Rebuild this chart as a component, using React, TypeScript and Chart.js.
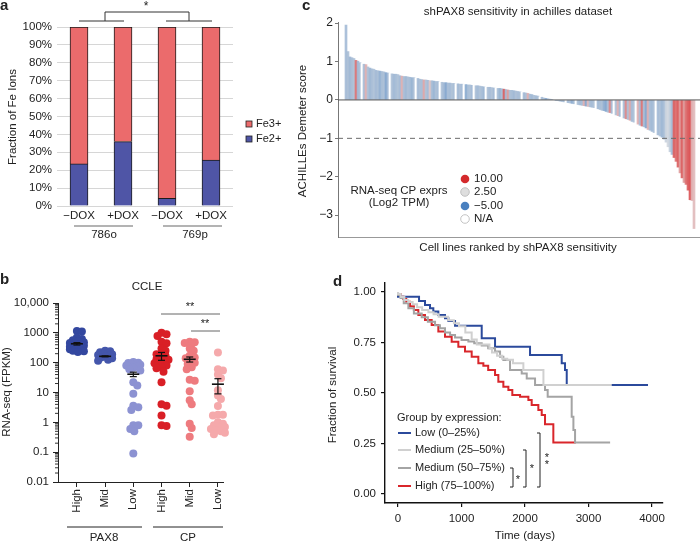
import React, { useEffect, useRef } from 'react';
import { Chart, registerables } from 'chart.js';

Chart.register(...registerables);

const FONT = '"Liberation Sans", Arial, Helvetica, sans-serif';
const W = 700;
const H = 542;
const TEXT = '#222222';
const MINUS = '\u2212';

// ---------------- Panel a : Fe ions ----------------
const feCategories = [MINUS + 'DOX', '+DOX', MINUS + 'DOX', '+DOX'];
const feCellLines = ['786o', '769p'];
const fe2Percent = [23.5, 36.0, 4.3, 25.7];
const fe3Percent = [76.5, 64.0, 95.7, 74.3];
const feSeriesNames = ['Fe3+', 'Fe2+'];
const feYTicks = [0, 10, 20, 30, 40, 50, 60, 70, 80, 90, 100];

// ---------------- Panel b : CCLE ----------------
const ccleCategories = ['High', 'Mid', 'Low', 'High', 'Mid', 'Low'];
const ccleGenes = ['PAX8', 'CP'];
const pax8High = [1150, 1100, 700, 620, 560, 520, 480, 460, 440, 420, 400, 390, 370, 360, 350, 340, 330, 310, 300, 290, 280, 270, 260, 250, 240, 230];
const pax8Mid = [250, 240, 225, 210, 200, 190, 180, 170, 160, 150, 140, 125, 115];
const pax8Low = [105, 100, 98, 95, 90, 85, 80, 75, 68, 60, 55, 22, 17, 9, 3.6, 3.2, 2.6, 0.8, 0.8, 0.6, 0.5, 0.09];
const cpHigh = [1000, 900, 780, 500, 450, 300, 250, 200, 190, 170, 140, 130, 125, 110, 100, 95, 80, 70, 65, 50, 22, 4.0, 3.6, 1.7, 0.8, 0.75];
const cpMid = [500, 480, 460, 420, 300, 250, 170, 150, 140, 120, 100, 90, 70, 60, 27, 25, 11, 5.5, 4, 0.9, 0.65, 0.33];
const cpLow = [220, 60, 55, 40, 30, 12, 8, 6, 3.5, 1.8, 1.8, 1.7, 1.0, 0.9, 0.8, 0.7, 0.7, 0.6, 0.55, 0.5, 0.45, 0.4];
const ccleMeans = [430, 163, 41, 170, 130, 19];
const ccleSem = [40, 6, 7, 50, 25, 10];
const ccleYTickValues = [0.01, 0.1, 1, 10, 100, 1000, 10000];
const ccleYTickLabels = ['0.01', '0.1', '1', '10', '100', '1000', '10,000'];
const ccleColors = ['#33479f', '#4456ab', '#8c92d2', '#d91f26', '#ee7b7f', '#f5a9ab'];

// ---------------- Panel c : Achilles ----------------
const achillesScores = [
  1.95, 1.26, 1.12, 1.10, 1.08, 1.03, 1.01, 0.97, 0.95, 0.93,
  0.92, 0.86, 0.83, 0.81, 0.80, 0.77, 0.76, 0.75, 0.74, 0.73,
  0.71, 0.70, 0.69, 0.68, 0.67, 0.67, 0.66, 0.63, 0.62, 0.61,
  0.61, 0.60, 0.59, 0.58, 0.58, 0.57, 0.56, 0.54, 0.53, 0.52,
  0.52, 0.51, 0.50, 0.50, 0.49, 0.48, 0.48, 0.47, 0.46, 0.45,
  0.45, 0.44, 0.44, 0.43, 0.43, 0.42, 0.42, 0.41, 0.41, 0.40,
  0.40, 0.39, 0.39, 0.38, 0.38, 0.37, 0.37, 0.36, 0.35, 0.34,
  0.34, 0.33, 0.33, 0.32, 0.31, 0.31, 0.30, 0.30, 0.29, 0.28,
  0.27, 0.26, 0.25, 0.25, 0.24, 0.23, 0.22, 0.21, 0.20, 0.19,
  0.18, 0.17, 0.15, 0.14, 0.12, 0.11, 0.10, 0.08, 0.07, 0.05,
  0.04, 0.03, 0.02, 0.01, 0.00, -0.01, -0.02, -0.03, -0.04, -0.05,
  -0.06, -0.07, -0.08, -0.09, -0.10, -0.11, -0.12, -0.13, -0.14, -0.15,
  -0.16, -0.17, -0.18, -0.19, -0.20, -0.22, -0.23, -0.25, -0.27, -0.28,
  -0.30, -0.32, -0.33, -0.35, -0.37, -0.39, -0.41, -0.43, -0.45, -0.47,
  -0.49, -0.51, -0.53, -0.56, -0.58, -0.61, -0.63, -0.66, -0.68, -0.70,
  -0.73, -0.77, -0.79, -0.82, -0.85, -0.88, -0.91, -0.94, -0.97, -1.02,
  -1.10, -1.22, -1.35, -1.42, -1.50, -1.60, -1.75, -1.90, -2.03, -2.15,
  -2.20, -2.35, -2.60, -2.62, -3.35,
];
const cpExpression = [
  -1.2, -0.8, -1.5, -1.0, -0.6, 8.0, -1.4, -0.9, null, -1.1,
  5.0, -0.7, -1.6, -1.0, -0.5, -1.3, -0.9, -2.2, -1.0, -0.8,
  -3.0, -1.1, null, -0.7, -1.4, -1.0, -0.6, -1.2, 5.0, -0.9,
  -1.5, -0.8, -1.1, -2.0, -0.7, null, -1.3, -0.9, -1.0, 5.5,
  -0.6, -1.2, 4.0, -1.0, -1.8, -0.8, -1.1, null, -0.7, -1.4,
  -3.0, -0.9, -1.2, -0.6, -1.0, null, -1.5, -0.8, -1.1, null,
  -2.8, -1.0, -0.7, -1.3, null, -0.9, -1.2, -0.6, -1.0, -1.6,
  null, -0.8, -1.1, -0.5, -1.3, null, -1.0, -2.0, -0.9, 9.0,
  -1.2, 6.0, -0.8, -1.0, -1.5, -0.7, -1.1, -0.9, null, -1.3,
  -0.8, 5.0, -1.0, -1.4, -0.6, -1.2, -0.9, null, -1.1, -0.7,
  -3.0, -1.0, -1.3, -0.8, null, -1.1, -0.6, -1.4, -1.0, -0.9,
  null, -1.2, -0.7, -2.5, -1.0, null, -0.8, -1.3, -1.1, 5.0,
  -3.0, 4.5, -0.9, -1.2, -0.6, null, -1.4, -1.0, -0.8, -2.2,
  -3.0, -0.9, 7.0, -1.1, null, -0.7, 5.0, -1.3, null, -1.0,
  7.0, -0.8, 5.5, -1.2, -0.6, null, 5.0, -1.1, 8.0, -0.9,
  -3.0, 5.0, -1.0, -1.4, -0.7, null, -1.2, -0.8, -1.6, -1.0,
  1.0, 1.5, 0.5, -1.2, 9.0, 8.0, 9.0, 6.0, 9.0, 6.0,
  8.0, 9.0, 9.5, 5.0, 4.5,
];
const achillesYTicks = [-3, -2, -1, 0, 1, 2];
const exprLegendValues = [10, 2.5, -5, null];
const exprLegendLabels = ['10.00', '2.50', MINUS + '5.00', 'N/A'];
const sensitivityCutoff = -1;

// ---------------- Panel d : survival ----------------
const kmLow = [[0, 1], [331, 0.977], [425, 0.955], [504, 0.936], [556, 0.919], [635, 0.903], [740, 0.886], [793, 0.87], [898, 0.856], [1318, 0.833], [1528, 0.771], [2079, 0.729], [2578, 0.688], [2630, 0.647], [2657, 0.614], [2678, 0.54], [3937, 0.54]];
const kmMedLow = [[0, 1], [40, 0.99], [100, 0.975], [160, 0.96], [230, 0.95], [300, 0.94], [380, 0.925], [478, 0.911], [560, 0.9], [640, 0.89], [790, 0.878], [880, 0.86], [960, 0.845], [1060, 0.83], [1160, 0.8], [1240, 0.765], [1440, 0.74], [1480, 0.72], [1560, 0.7], [1640, 0.685], [1720, 0.67], [1811, 0.665], [1974, 0.647], [2290, 0.614], [2866, 0.54], [3366, 0.54]];
const kmMedHigh = [[0, 1], [40, 0.985], [90, 0.97], [163, 0.944], [250, 0.92], [373, 0.894], [470, 0.875], [583, 0.853], [660, 0.835], [740, 0.82], [820, 0.8], [898, 0.787], [1000, 0.775], [1108, 0.762], [1200, 0.755], [1318, 0.746], [1420, 0.735], [1528, 0.721], [1607, 0.705], [1659, 0.68], [1764, 0.663], [1948, 0.614], [2027, 0.597], [2158, 0.572], [2315, 0.54], [2357, 0.515], [2735, 0.482], [2762, 0.383], [2788, 0.317], [2826, 0.255], [3340, 0.255]];
const kmHigh = [[0, 1], [40, 0.99], [84, 0.977], [130, 0.965], [189, 0.952], [250, 0.93], [320, 0.911], [425, 0.886], [530, 0.861], [635, 0.837], [740, 0.804], [845, 0.779], [950, 0.754], [1055, 0.729], [1160, 0.705], [1265, 0.68], [1344, 0.647], [1420, 0.635], [1528, 0.614], [1580, 0.589], [1659, 0.556], [1738, 0.531], [1800, 0.515], [1922, 0.49], [2053, 0.482], [2105, 0.465], [2210, 0.44], [2263, 0.416], [2315, 0.391], [2446, 0.345], [2746, 0.255], [2800, 0.255]];
const kmNames = ['Low (0\u201325%)', 'Medium (25\u201350%)', 'Medium (50\u201375%)', 'High (75\u2013100%)'];
const kmColors = ['#2b4a9c', '#d0d0d0', '#a4a4a4', '#d9262b'];
const kmXTicks = [0, 1000, 2000, 3000, 4000];
const kmYTicks = [0, 0.25, 0.5, 0.75, 1];

// ---------------- helpers ----------------
type Opt = { size?: number; bold?: boolean; align?: CanvasTextAlign; baseline?: CanvasTextBaseline; color?: string; rot?: number };
function drawText(ctx: CanvasRenderingContext2D, s: string, x: number, y: number, o: Opt = {}) {
  ctx.save();
  ctx.font = `${o.bold ? 'bold ' : ''}${o.size || 11.5}px ${FONT}`;
  ctx.fillStyle = o.color || TEXT;
  ctx.textAlign = o.align || 'center';
  ctx.textBaseline = o.baseline || 'middle';
  ctx.translate(x, y);
  if (o.rot) ctx.rotate(o.rot);
  ctx.fillText(s, 0, 0);
  ctx.restore();
}
function drawLine(ctx: CanvasRenderingContext2D, pts: number[][], color: string, width = 1, dash: number[] = []) {
  ctx.save();
  ctx.strokeStyle = color;
  ctx.lineWidth = width;
  ctx.setLineDash(dash);
  ctx.beginPath();
  pts.forEach((p, i) => (i === 0 ? ctx.moveTo(p[0], p[1]) : ctx.lineTo(p[0], p[1])));
  ctx.stroke();
  ctx.restore();
}
// chart area [L,R]x[T,B]; yW = width of the y-axis box, xH = height of the x-axis box
function layoutFor(L: number, T: number, R: number, B: number, yW: number, xH: number) {
  return { padding: { left: L - yW, top: T, right: W - R, bottom: H - B - xH } };
}
const fitW = (w: number) => (s: any) => { s.width = w; };
const fitH = (h: number) => (s: any) => { s.height = h; };
const font = (size = 11.5) => ({ family: FONT, size });
const fmt = (v: number) => (v < 0 ? MINUS + Math.abs(v) : String(v));

function lerp(a: number[], b: number[], t: number, alpha = 1) {
  const c = a.map((v, i) => Math.round(v + (b[i] - v) * t));
  return `rgba(${c[0]},${c[1]},${c[2]},${alpha})`;
}
function exprColor(v: number | null, alpha = 1) {
  if (v === null) return '#ffffff';
  const blue = [74, 128, 191], mid = [222, 222, 222], red = [212, 42, 44];
  if (v <= 2.5) return lerp(blue, mid, Math.min(1, Math.max(0, (v + 5) / 7.5)), alpha);
  return lerp(mid, red, Math.min(1, Math.max(0, (v - 2.5) / 7.5)), alpha);
}

// simple beeswarm layout (pixel-like units) computed from the values
function swarm(values: number[], center: number, pxPerCat: number, pxPerDec: number, dot: number, maxOff: number) {
  const placed: number[][] = [];
  const out: { x: number; y: number }[] = [];
  const sorted = [...values].sort((a, b) => b - a);
  for (const v of sorted) {
    const y = Math.log10(v) * pxPerDec;
    let chosen = 0;
    let best = -1;
    for (let k = 0; k <= maxOff * 2; k++) {
      const dx = k === 0 ? 0 : k % 2 ? Math.ceil(k / 2) : -k / 2;
      const dmin = placed.reduce((m, p) => Math.min(m, Math.hypot(p[0] - dx, p[1] - y)), 1e9);
      if (dmin >= dot) { chosen = dx; break; }
      if (dmin > best) { best = dmin; chosen = dx; }
    }
    placed.push([chosen, y]);
    out.push({ x: center + chosen / pxPerCat, y: v });
  }
  return out;
}

const base = (extra: any) => ({
  animation: false,
  responsive: false,
  events: [],
  plugins: { legend: { display: false }, tooltip: { enabled: false } },
  ...extra,
});

// ---------------- chart makers ----------------
function makeA(cv: HTMLCanvasElement) {
  const annot = {
    id: 'annotA',
    afterDraw(chart: any) {
      const ctx = chart.ctx;
      const xs = chart.scales.x;
      feCategories.forEach((c, i) => drawText(ctx, c, xs.getPixelForValue(i), 216, { size: 11.5 }));
      drawLine(ctx, [[74, 226], [133, 226]], '#9a9a9a', 1.5);
      drawLine(ctx, [[163, 226], [222, 226]], '#9a9a9a', 1.5);
      drawText(ctx, feCellLines[0], 104, 235);
      drawText(ctx, feCellLines[1], 195, 235);
      drawLine(ctx, [[79, 21], [124, 21]], '#333', 1);
      drawLine(ctx, [[166, 21], [212, 21]], '#333', 1);
      drawLine(ctx, [[105, 21], [105, 12], [189, 12], [189, 21]], '#333', 1);
      drawText(ctx, '*', 146, 7, { size: 12 });
      drawText(ctx, 'Fraction of Fe Ions', 13, 117, { rot: -Math.PI / 2 });
      const leg = [['#eb6b6c', feSeriesNames[0], 124], ['#4f55a6', feSeriesNames[1], 139]];
      leg.forEach(([col, name, y]: any) => {
        ctx.fillStyle = col; ctx.fillRect(246, y - 3, 6, 6);
        ctx.strokeStyle = '#222'; ctx.lineWidth = 0.8; ctx.strokeRect(246, y - 3, 6, 6);
        drawText(ctx, name, 256, y, { align: 'left', size: 11 });
      });
      drawText(ctx, 'a', 0, 6, { bold: true, size: 15, align: 'left' });
    },
  };
  return new Chart(cv, {
    type: 'bar',
    data: {
      labels: feCategories,
      datasets: [
        { label: feSeriesNames[1], data: fe2Percent, backgroundColor: '#4f55a6', borderColor: '#1c1c1c', borderWidth: 1, barThickness: 18 },
        { label: feSeriesNames[0], data: fe3Percent, backgroundColor: '#eb6b6c', borderColor: '#1c1c1c', borderWidth: 1, barThickness: 18 },
      ],
    },
    options: base({
      layout: layoutFor(57, 27, 233, 206, 57, 30),
      scales: {
        x: { stacked: true, afterFit: fitH(30), grid: { display: false, drawTicks: false }, border: { display: false }, ticks: { display: false } },
        y: {
          stacked: true, min: 0, max: 100, afterFit: fitW(57),
          afterBuildTicks: (s: any) => { s.ticks = feYTicks.map((v) => ({ value: v })); },
          ticks: { callback: (v: any) => v + '%', padding: 5, font: font(11.5), color: TEXT },
          grid: { color: '#d6d6d6', drawTicks: false }, border: { display: false },
        },
      },
    }),
    plugins: [annot],
  } as any);
}

function makeB(cv: HTMLCanvasElement) {
  const xMin = 0.33, xMax = 6.18;
  const L = 58, R = 223, T = 303, B = 482;
  const pxPerCat = (R - L) / (xMax - xMin);
  const pxPerDec = (B - T) / 6;
  const groups = [pax8High, pax8Mid, pax8Low, cpHigh, cpMid, cpLow];
  const annot = {
    id: 'annotB',
    afterDatasetsDraw(chart: any) {
      const ctx = chart.ctx;
      const xs = chart.scales.x, ys = chart.scales.y;
      ccleMeans.forEach((m, i) => {
        const x = xs.getPixelForValue(i + 1);
        const y = ys.getPixelForValue(m);
        const y1 = ys.getPixelForValue(m + ccleSem[i]);
        const y2 = ys.getPixelForValue(Math.max(0.011, m - ccleSem[i]));
        drawLine(ctx, [[x - 6, y], [x + 6, y]], '#111', 1.6);
        drawLine(ctx, [[x, y1], [x, y2]], '#111', 1.2);
        drawLine(ctx, [[x - 3.5, y1], [x + 3.5, y1]], '#111', 1.2);
        drawLine(ctx, [[x - 3.5, y2], [x + 3.5, y2]], '#111', 1.2);
      });
    },
    afterDraw(chart: any) {
      const ctx = chart.ctx;
      const xs = chart.scales.x, ys = chart.scales.y;
      for (let e = -2; e < 4; e++) {
        for (let k = 2; k <= 9; k++) {
          const y = ys.getPixelForValue(k * Math.pow(10, e));
          drawLine(ctx, [[L - 3, y], [L, y]], '#333', 1);
        }
      }
      ccleCategories.forEach((c, i) => {
        drawText(ctx, c, xs.getPixelForValue(i + 1), 489, { rot: -Math.PI / 2, align: 'right' });
      });
      drawLine(ctx, [[67, 527], [142, 527]], '#222', 1);
      drawLine(ctx, [[153, 527], [223, 527]], '#222', 1);
      drawText(ctx, ccleGenes[0], 104, 538);
      drawText(ctx, ccleGenes[1], 188, 538);
      drawLine(ctx, [[161, 314], [220, 314]], '#666', 1);
      drawText(ctx, '**', 190, 307, { size: 11 });
      drawLine(ctx, [[191, 331], [220, 331]], '#666', 1);
      drawText(ctx, '**', 205, 324, { size: 11 });
      drawText(ctx, 'CCLE', 147, 287);
      drawText(ctx, 'RNA-seq (FPKM)', 7, 392, { rot: -Math.PI / 2 });
      drawText(ctx, 'b', 0, 280, { bold: true, size: 15, align: 'left' });
    },
  };
  return new Chart(cv, {
    type: 'scatter',
    data: {
      datasets: groups.map((g, i) => ({
        data: swarm(g, i + 1, pxPerCat, pxPerDec, 4.5, 7),
        backgroundColor: ccleColors[i],
        borderWidth: 0,
        pointRadius: 4,
        clip: false,
      })),
    },
    options: base({
      layout: layoutFor(L, T, R, B, 58, 20),
      scales: {
        x: {
          type: 'linear', min: xMin, max: xMax, afterFit: fitH(20),
          afterBuildTicks: (s: any) => { s.ticks = [1, 2, 3, 4, 5, 6].map((v) => ({ value: v })); },
          ticks: { display: false },
          grid: { drawOnChartArea: false, tickLength: 5, color: '#222' },
          border: { color: '#222', width: 1 },
        },
        y: {
          type: 'logarithmic', min: 0.01, max: 10000, afterFit: fitW(58),
          afterBuildTicks: (s: any) => { s.ticks = ccleYTickValues.map((v) => ({ value: v })); },
          ticks: {
            autoSkip: false, padding: 4, font: font(11.5), color: TEXT,
            callback: (v: any) => {
              const i = ccleYTickValues.findIndex((t) => Math.abs(Math.log10(t) - Math.log10(v)) < 1e-6);
              return i >= 0 ? ccleYTickLabels[i] : '';
            },
          },
          grid: { drawOnChartArea: false, tickLength: 5, color: '#222' },
          border: { color: '#222', width: 1 },
        },
      },
    }),
    plugins: [annot],
  } as any);
}

function makeC(cv: HTMLCanvasElement) {
  const annot = {
    id: 'annotC',
    afterDatasetsDraw(chart: any) {
      const ctx = chart.ctx;
      const ys = chart.scales.y;
      const a = chart.chartArea;
      const y0 = ys.getPixelForValue(0);
      drawLine(ctx, [[a.left, y0], [a.right, y0]], '#555', 1);
      const y1 = ys.getPixelForValue(sensitivityCutoff);
      drawLine(ctx, [[a.left, y1], [a.right, y1]], '#6a6a6a', 1, [5, 4]);
    },
    afterDraw(chart: any) {
      const ctx = chart.ctx;
      drawText(ctx, 'shPAX8 sensitivity in achilles dataset', 518, 12);
      drawText(ctx, 'Cell lines ranked by shPAX8 sensitivity', 518, 248);
      drawText(ctx, 'ACHILLEs Demeter score', 303, 131, { rot: -Math.PI / 2 });
      drawText(ctx, 'RNA-seq CP exprs', 399, 191);
      drawText(ctx, '(Log2 TPM)', 399, 203);
      const ys = [179, 192, 206, 219];
      exprLegendValues.forEach((v, i) => {
        ctx.save();
        ctx.beginPath();
        ctx.arc(465, ys[i], 4.3, 0, Math.PI * 2);
        ctx.fillStyle = exprColor(v as any);
        ctx.fill();
        if (v === null || v === 2.5) { ctx.strokeStyle = '#b5b5b5'; ctx.lineWidth = 0.8; ctx.stroke(); }
        ctx.restore();
        drawText(ctx, exprLegendLabels[i], 474, ys[i], { align: 'left' });
      });
      drawText(ctx, 'c', 302, 6, { bold: true, size: 15, align: 'left' });
    },
  };
  return new Chart(cv, {
    type: 'bar',
    data: {
      datasets: [{
        data: achillesScores.map((v, i) => ({ x: i, y: v })),
        backgroundColor: cpExpression.map((v) => exprColor(v as any, 0.78)),
        borderWidth: 0,
        barPercentage: 1,
        categoryPercentage: 1,
      }],
    },
    options: base({
      layout: layoutFor(338, 22, 700, 237, 50, 5),
      scales: {
        x: {
          type: 'linear', min: -4, max: 177, offset: false, afterFit: fitH(5),
          ticks: { display: false }, grid: { display: false, drawTicks: false },
          border: { display: true, color: '#999', width: 1 },
        },
        y: {
          min: -3.57, max: 2.03, afterFit: fitW(50),
          afterBuildTicks: (s: any) => { s.ticks = achillesYTicks.map((v) => ({ value: v })); },
          ticks: { callback: (v: any) => fmt(v), padding: 2, font: font(12), color: TEXT },
          grid: { drawOnChartArea: false, tickLength: 3, color: '#777' },
          border: { color: '#777', width: 1 },
        },
      },
    }),
    plugins: [annot],
  } as any);
}

function makeD(cv: HTMLCanvasElement) {
  const curves = [kmMedLow, kmMedHigh, kmLow, kmHigh];
  const colorIdx = [1, 2, 0, 3];
  const annot = {
    id: 'annotD',
    afterDraw(chart: any) {
      const ctx = chart.ctx;
      drawText(ctx, 'Time (days)', 525, 536);
      drawText(ctx, 'Fraction of survival', 333, 395, { rot: -Math.PI / 2 });
      drawText(ctx, 'Group by expression:', 397, 418, { align: 'left', size: 11 });
      const ly = [433, 450, 468, 486];
      kmNames.forEach((n, i) => {
        drawLine(ctx, [[398, ly[i]], [411, ly[i]]], kmColors[i], 2);
        drawText(ctx, n, 415, ly[i], { align: 'left', size: 11 });
      });
      drawLine(ctx, [[510, 468], [513, 468], [513, 487], [510, 487]], '#222', 1);
      drawText(ctx, '*', 518, 480, { size: 11 });
      drawLine(ctx, [[523, 450], [526, 450], [526, 487], [523, 487]], '#222', 1);
      drawText(ctx, '*', 532, 469, { size: 11 });
      drawLine(ctx, [[537, 433], [540, 433], [540, 487], [537, 487]], '#222', 1);
      drawText(ctx, '*', 547, 458, { size: 11 });
      drawText(ctx, '*', 547, 465, { size: 11 });
      drawText(ctx, 'd', 333, 282, { bold: true, size: 15, align: 'left' });
    },
  };
  return new Chart(cv, {
    type: 'line',
    data: {
      datasets: curves.map((c, i) => ({
        data: c.map((p) => ({ x: p[0], y: p[1] })),
        borderColor: kmColors[colorIdx[i]],
        borderWidth: 2,
        pointRadius: 0,
        stepped: 'after',
        fill: false,
      })),
    },
    options: base({
      layout: layoutFor(385, 283, 663, 503, 45, 28),
      scales: {
        x: {
          type: 'linear', min: -205, max: 4173, afterFit: fitH(28),
          afterBuildTicks: (s: any) => { s.ticks = kmXTicks.map((v) => ({ value: v })); },
          ticks: { padding: 5, font: font(11.5), color: TEXT, callback: (v: any) => String(v) },
          grid: { drawOnChartArea: false, tickLength: 4, color: '#111', lineWidth: 1.2 },
          border: { color: '#111', width: 1.4 },
        },
        y: {
          type: 'linear', min: -0.0446, max: 1.0446, afterFit: fitW(45),
          afterBuildTicks: (s: any) => { s.ticks = kmYTicks.map((v) => ({ value: v })); },
          ticks: { padding: 5, font: font(11.5), color: TEXT, callback: (v: any) => Number(v).toFixed(2) },
          grid: { drawOnChartArea: false, tickLength: 4, color: '#111', lineWidth: 1.2 },
          border: { color: '#111', width: 1.4 },
        },
      },
    }),
    plugins: [annot],
  } as any);
}

export default function App() {
  const ra = useRef<HTMLCanvasElement>(null);
  const rb = useRef<HTMLCanvasElement>(null);
  const rc = useRef<HTMLCanvasElement>(null);
  const rd = useRef<HTMLCanvasElement>(null);
  useEffect(() => {
    document.body.style.margin = '0';
    Chart.defaults.font.family = FONT;
    Chart.defaults.color = TEXT;
    const charts = [
      makeA(ra.current as HTMLCanvasElement),
      makeB(rb.current as HTMLCanvasElement),
      makeC(rc.current as HTMLCanvasElement),
      makeD(rd.current as HTMLCanvasElement),
    ];
    return () => charts.forEach((c) => c.destroy());
  }, []);
  const st: React.CSSProperties = { position: 'absolute', left: 0, top: 0, width: W, height: H };
  return (
    <div style={{ position: 'relative', width: W, height: H, background: '#fff', overflow: 'hidden' }}>
      <canvas ref={ra} width={W} height={H} style={st} />
      <canvas ref={rb} width={W} height={H} style={st} />
      <canvas ref={rc} width={W} height={H} style={st} />
      <canvas ref={rd} width={W} height={H} style={st} />
    </div>
  );
}
